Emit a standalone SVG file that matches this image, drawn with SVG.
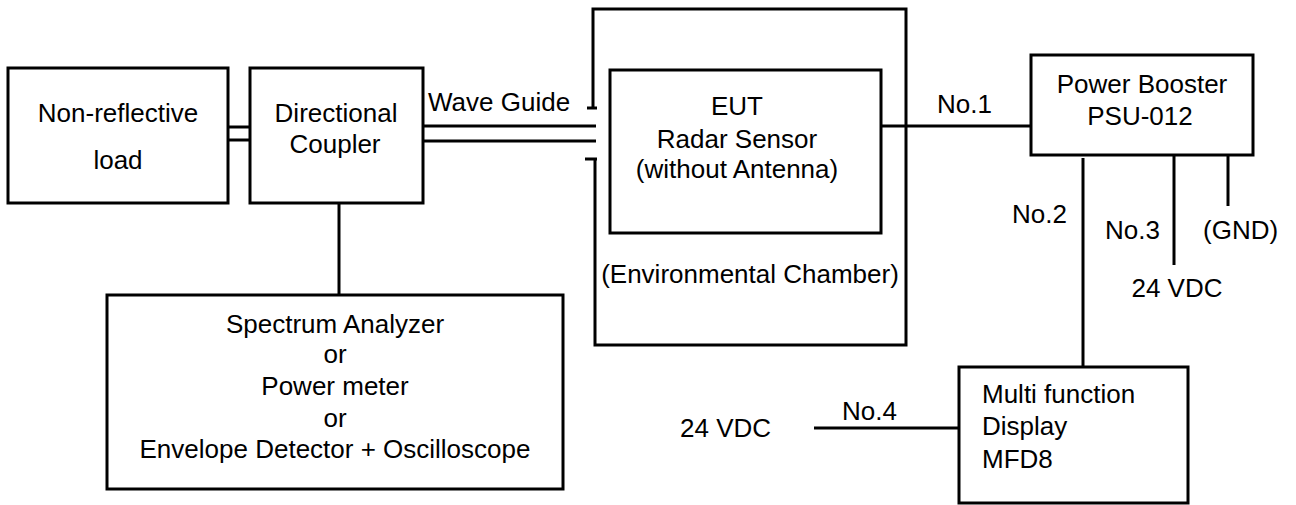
<svg xmlns="http://www.w3.org/2000/svg" width="1296" height="505" viewBox="0 0 1296 505">
<style>
.box{fill:#fff;stroke:#000;stroke-width:3}
.ln{fill:none;stroke:#000;stroke-width:3}
text{font-family:"Liberation Sans",Arial,sans-serif;font-size:26px;fill:#000}
.c{text-anchor:middle}
</style>
<rect width="1296" height="505" fill="#fff"/>
<g id="connectors">
<line class="ln" x1="228" y1="127" x2="250" y2="127"/>
<line class="ln" x1="228" y1="140" x2="250" y2="140"/>
<line class="ln" x1="423" y1="126" x2="596" y2="126"/>
<line class="ln" x1="423" y1="141" x2="596" y2="141"/>
<line class="ln" x1="339" y1="203" x2="339" y2="295"/>
<line class="ln" x1="881" y1="126" x2="1031" y2="126"/>
<line class="ln" x1="1083" y1="158" x2="1083" y2="367"/>
<line class="ln" x1="1174" y1="155" x2="1174" y2="265"/>
<line class="ln" x1="1228" y1="155" x2="1228" y2="206"/>
<line class="ln" x1="814" y1="428" x2="959" y2="428"/>
<text x="428" y="111">Wave Guide</text>
<text x="937" y="113">No.1</text>
<text x="1012" y="223">No.2</text>
<text x="1105" y="239">No.3</text>
<text x="1203" y="239">(GND)</text>
<text class="c" x="1177" y="297">24 VDC</text>
<text x="842" y="420">No.4</text>
<text x="680" y="437">24 VDC</text>
</g>
<g id="chamber">
<path class="ln" d="M593,108 V9 H906 V345 H595 V159"/>
<line class="ln" x1="587" y1="108" x2="597" y2="108"/>
<line class="ln" x1="585" y1="159" x2="597" y2="159"/>
<text class="c" x="750" y="283">(Environmental Chamber)</text>
</g>
<g id="load">
<rect class="box" x="8" y="68" width="220" height="135"/>
<text class="c" x="118" y="122">Non-reflective</text>
<text class="c" x="118" y="169">load</text>
</g>
<g id="coupler">
<rect class="box" x="250" y="68" width="173" height="135"/>
<text class="c" x="336" y="122">Directional</text>
<text class="c" x="335" y="153">Coupler</text>
</g>
<g id="eut">
<rect class="box" x="610" y="70" width="271" height="163"/>
<text class="c" x="737" y="115">EUT</text>
<text class="c" x="737" y="148">Radar Sensor</text>
<text class="c" x="737" y="178">(without Antenna)</text>
</g>
<g id="booster">
<rect class="box" x="1031" y="55" width="222" height="100"/>
<text class="c" x="1142" y="93">Power Booster</text>
<text class="c" x="1140" y="125">PSU-012</text>
</g>
<g id="analyzer">
<rect class="box" x="107" y="295" width="456" height="194"/>
<text class="c" x="335" y="333">Spectrum Analyzer</text>
<text class="c" x="335" y="363">or</text>
<text class="c" x="335" y="395">Power meter</text>
<text class="c" x="335" y="427">or</text>
<text class="c" x="335" y="458">Envelope Detector + Oscilloscope</text>
</g>
<g id="mfd">
<rect class="box" x="959" y="367" width="229" height="136"/>
<text x="982" y="403">Multi function</text>
<text x="982" y="435">Display</text>
<text x="982" y="468">MFD8</text>
</g>
</svg>
